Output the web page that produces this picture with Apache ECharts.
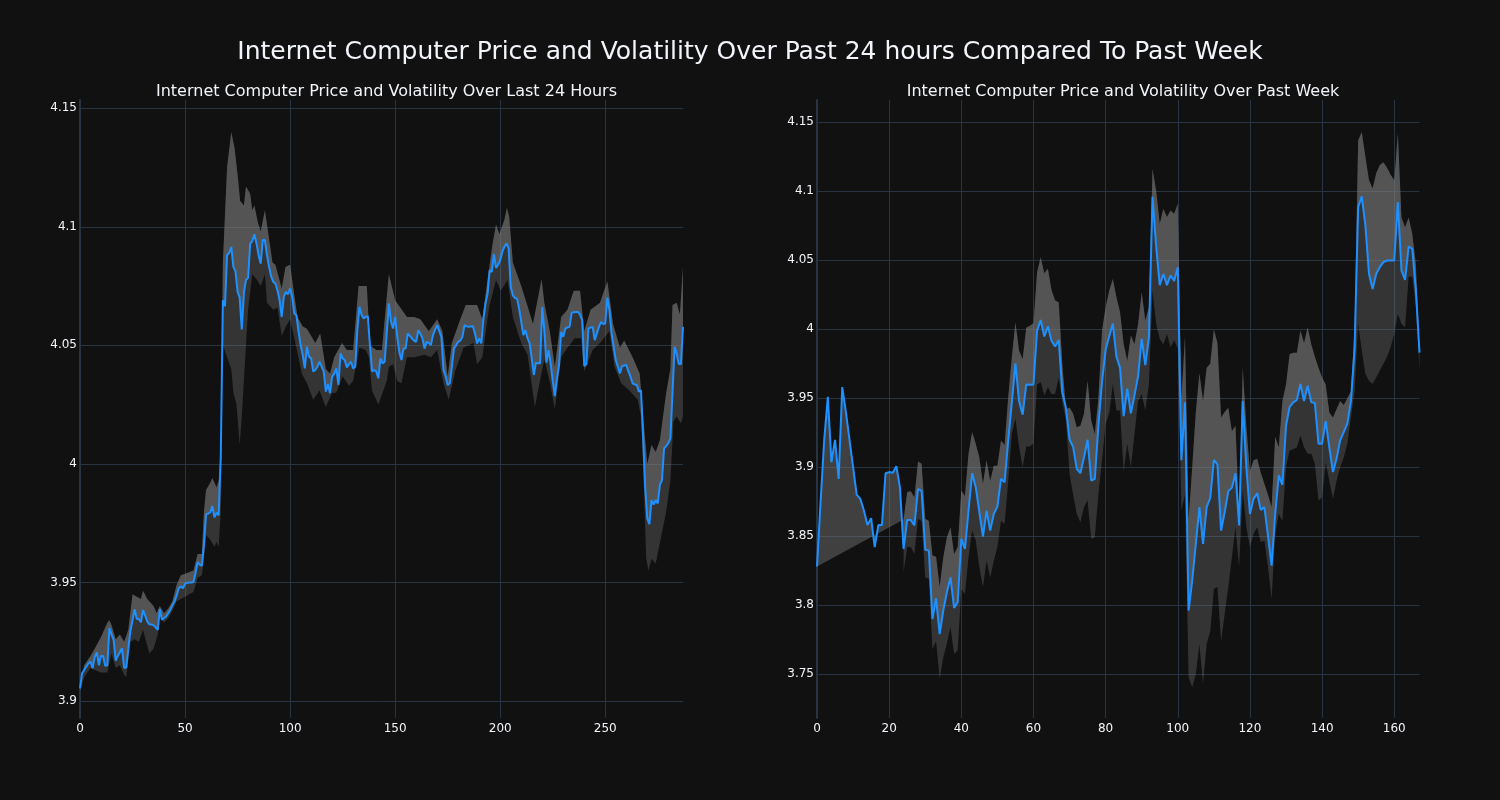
<!DOCTYPE html>
<html>
<head>
<meta charset="utf-8">
<script src="https://cdn.jsdelivr.net/npm/echarts@6/dist/echarts.min.js"></script>
<style>
html,body{margin:0;padding:0;background:#111111;}
#chart{width:1500px;height:800px;}
</style>
</head>
<body>
<div id="chart"></div>
<script>
const mainTitle = "Internet Computer Price and Volatility Over Past 24 hours Compared To Past Week";
const dayTitle = "Internet Computer Price and Volatility Over Last 24 Hours";
const weekTitle = "Internet Computer Price and Volatility Over Past Week";

// Last 24 hours (5-minute steps), x = index
const dayPrice = [
3.9053,3.9117,3.913,3.9145,3.9158,3.9166,3.9138,3.9185,3.9205,3.915,
3.919,3.919,3.9148,3.915,3.9307,3.928,3.9258,3.917,3.919,3.9205,
3.9222,3.914,3.914,3.922,3.9296,3.934,3.9387,3.9347,3.9345,3.9332,
3.9383,3.936,3.9335,3.9323,3.9322,3.932,3.931,3.93,3.9387,3.9342,
3.935,3.9356,3.937,3.9385,3.9403,3.942,3.9445,3.9475,3.9483,3.9475,
3.9494,3.9498,3.95,3.95,3.9502,3.954,3.9585,3.9575,3.957,3.966,
3.9788,3.979,3.9795,3.9822,3.9774,3.9794,3.9783,4.003,4.069,4.0665,
4.088,4.089,4.0915,4.0831,4.0812,4.0726,4.0701,4.0567,4.072,4.0777,
4.0784,4.0929,4.094,4.0969,4.093,4.088,4.0845,4.0944,4.0944,4.088,
4.083,4.079,4.0768,4.076,4.0732,4.069,4.062,4.0704,4.0726,4.0715,
4.074,4.0705,4.0634,4.0627,4.056,4.0501,4.046,4.0403,4.0494,4.0452,
4.0445,4.039,4.0396,4.041,4.0431,4.041,4.039,4.0305,4.0337,4.0298,
4.0368,4.038,4.0403,4.0333,4.0466,4.0445,4.0438,4.0407,4.042,4.0431,
4.0403,4.041,4.0564,4.0662,4.063,4.0613,4.062,4.0623,4.05,4.039,
4.0396,4.039,4.0361,4.0445,4.0424,4.0431,4.055,4.0677,4.06,4.0571,
4.062,4.0536,4.047,4.0438,4.0487,4.0487,4.055,4.054,4.0529,4.052,
4.0515,4.0564,4.055,4.0529,4.0487,4.0515,4.051,4.0501,4.0543,4.0565,
4.0585,4.056,4.0536,4.0396,4.037,4.0333,4.034,4.041,4.0487,4.05,
4.0515,4.052,4.0536,4.0585,4.058,4.0578,4.058,4.0581,4.055,4.0508,
4.0529,4.0508,4.061,4.0677,4.0719,4.0817,4.081,4.0885,4.0827,4.084,
4.086,4.0895,4.0916,4.093,4.0909,4.0747,4.0711,4.07,4.0697,4.0655,
4.06,4.0543,4.0564,4.053,4.0508,4.0445,4.0375,4.0427,4.0424,4.0424,
4.0662,4.0564,4.0427,4.048,4.0424,4.035,4.0286,4.036,4.0417,4.0557,
4.0536,4.0571,4.0575,4.0578,4.0637,4.064,4.0641,4.0641,4.063,4.0606,
4.0413,4.0421,4.0571,4.0575,4.0578,4.0522,4.055,4.0578,4.0599,4.059,
4.0592,4.0701,4.0648,4.055,4.0494,4.0438,4.041,4.0382,4.0413,4.0415,
4.0417,4.039,4.0368,4.034,4.0335,4.0333,4.0305,4.031,4.012,3.99,
3.977,3.9746,3.9847,3.9828,3.9847,3.9833,3.9911,3.9932,4.0066,4.0075,
4.0087,4.0108,4.03,4.0494,4.0466,4.0421,4.0421,4.0578
];
const dayUpper = [
[0,3.907],[2,3.915],[5,3.919],[7,3.922],[10,3.927],[13,3.933],[14,3.934],[15,3.932],[17,3.926],[19,3.928],
[21,3.925],[23,3.93],[25,3.945],[27,3.944],[29,3.943],[30,3.9465],[32,3.943],[35,3.94],[36.5,3.937],[38,3.94],
[40,3.937],[42,3.939],[44,3.942],[46,3.949],[48,3.953],[51,3.954],[54,3.955],[56,3.962],[58,3.962],[59,3.98],
[60,3.989],[62,3.992],[63,3.994],[65,3.99],[66,3.993],[67,4.005],[68,4.085],[70,4.125],[72,4.14],[73.6,4.133],
[75,4.122],[76.2,4.111],[78,4.109],[79,4.117],[81,4.114],[82,4.107],[83,4.109],[84.6,4.102],[86,4.098],[88,4.107],
[89,4.101],[91.6,4.085],[93,4.084],[96,4.074],[97.8,4.083],[100,4.084],[101.7,4.073],[103.5,4.062],[106,4.058],[108,4.057],
[112,4.051],[114.3,4.055],[117,4.04],[119,4.038],[121,4.045],[124.7,4.051],[127,4.048],[130,4.048],[132.6,4.075],[136.5,4.075],
[138,4.05],[141,4.048],[143.7,4.048],[147,4.08],[150,4.069],[155.6,4.062],[159,4.062],[162,4.061],[166,4.056],[170,4.061],
[172.5,4.056],[175,4.037],[177,4.051],[181,4.061],[183.6,4.067],[189,4.067],[191.5,4.061],[194,4.078],[196.4,4.093],[198,4.101],
[199.6,4.097],[202,4.103],[203.2,4.108],[204.3,4.104],[206,4.085],[210,4.075],[212.5,4.068],[215.6,4.059],[219.7,4.078],[221,4.068],
[223.6,4.056],[226,4.041],[229,4.062],[232,4.065],[235,4.073],[238,4.073],[240,4.056],[243,4.065],[247.5,4.068],[251,4.077],
[253.7,4.059],[257,4.049],[259,4.052],[263,4.045],[266.4,4.038],[268,4.02],[270,4.0],[272,4.008],[274,4.005],[276,4.01],
[279,4.03],[281,4.04],[282,4.067],[284,4.068],[285.5,4.063],[287,4.083]
];
const dayLower = [
[0,3.904],[2,3.91],[5,3.914],[7,3.913],[10,3.912],[13,3.912],[15,3.92],[17,3.914],[19,3.915],[21,3.911],
[22,3.91],[24,3.925],[26,3.926],[28,3.925],[30,3.93],[33,3.92],[35,3.922],[37,3.928],[38,3.936],[40,3.933],
[42,3.935],[44,3.938],[46,3.942],[48,3.943],[50,3.944],[52,3.945],[54,3.946],[56,3.952],[58,3.953],[59,3.96],
[60,3.97],[62,3.968],[64,3.965],[65,3.967],[66,3.965],[67,3.98],[68,4.05],[70,4.045],[72,4.04],[73,4.03],
[74.5,4.025],[76,4.008],[77,4.02],[78,4.035],[79,4.05],[80,4.065],[82,4.08],[84,4.078],[86,4.075],[88,4.08],
[89,4.068],[92,4.065],[94,4.066],[96,4.054],[98,4.058],[100,4.061],[103,4.049],[105.6,4.038],[108,4.034],[111,4.027],
[114,4.031],[117,4.024],[120,4.03],[122,4.03],[125,4.037],[128,4.033],[130,4.035],[133,4.049],[136,4.048],[137.5,4.045],
[139,4.031],[142,4.025],[144,4.03],[146,4.035],[147,4.041],[149,4.042],[151,4.035],[153,4.034],[155.6,4.045],[159,4.045],
[164,4.046],[167,4.045],[170,4.048],[173,4.034],[175.5,4.027],[178.5,4.039],[182.5,4.049],[187.3,4.051],[189,4.042],[191.5,4.045],
[194.7,4.066],[198,4.0775],[200.3,4.073],[203.5,4.0775],[206,4.062],[210,4.051],[213,4.046],[216.5,4.024],[218.7,4.034],[221,4.044],
[223.5,4.035],[226,4.023],[229,4.045],[232,4.049],[235.5,4.053],[238.5,4.053],[240,4.039],[244,4.048],[247.5,4.051],[252,4.056],
[254.4,4.041],[257.6,4.034],[261.5,4.031],[265.5,4.027],[267,4.02],[268,4.0],[269.5,3.96],[270.6,3.955],[272,3.96],[274,3.958],
[277,3.971],[279,3.98],[281,3.993],[282.5,4.018],[284,4.02],[286,4.017],[287,4.02]
];

// Past week (hourly), x = index
const weekPrice = [
3.828,3.875,3.92,3.951,3.9036,3.9198,3.8915,3.958,3.94,3.92,
3.90,3.88,3.877,3.8685,3.858,3.863,3.842,3.858,3.858,3.8956,
3.8964,3.896,3.9007,3.885,3.8407,3.8617,3.8617,3.8577,3.8843,3.8826,
3.84,3.8395,3.7899,3.8049,3.779,3.796,3.8093,3.82,3.7979,3.802,
3.848,3.8407,3.8685,3.8956,3.8855,3.8673,3.8497,3.8685,3.854,3.866,
3.8714,3.8915,3.8891,3.9194,3.947,3.9753,3.948,3.938,3.96,3.9598,
3.96,3.999,4.0067,3.9947,4.0021,3.9917,3.9874,3.9922,3.9542,3.943,
3.92,3.9145,3.8988,3.8956,3.907,3.9198,3.8903,3.8915,3.93,3.962,
3.985,3.995,4.004,3.98,3.972,3.937,3.957,3.939,3.952,3.966,
3.993,3.974,3.994,4.096,4.06,4.032,4.04,4.032,4.039,4.035,
4.045,3.905,3.947,3.796,3.8177,3.8443,3.871,3.8443,3.871,3.8777,
3.9053,3.902,3.854,3.8673,3.8826,3.885,3.8956,3.8577,3.948,3.90,
3.866,3.877,3.881,3.869,3.871,3.8504,3.8286,3.866,3.894,3.8872,
3.93,3.9436,3.947,3.9487,3.9603,3.948,3.959,3.947,3.9465,3.917,
3.917,3.9334,3.9145,3.8964,3.906,3.9194,3.9254,3.9315,3.948,3.985,
4.0885,4.0963,4.0752,4.0401,4.0292,4.0401,4.045,4.0486,4.0498,4.0498,
4.0498,4.0922,4.0426,4.0358,4.06,4.0583,4.028,3.983
];
const weekUpper = [
[24,3.862],[25,3.882],[26,3.8826],[27,3.878],[28,3.904],[29,3.9024],[30,3.8625],[31,3.861],[32,3.836],[33,3.835],
[34,3.813],[35,3.8347],[36,3.849],[37,3.8564],[38,3.837],[39,3.842],[40,3.883],[41,3.879],[42,3.9097],[43,3.9254],
[44,3.917],[45,3.907],[46,3.888],[47,3.905],[48,3.89],[49,3.901],[50,3.901],[51,3.9194],[52,3.916],[53,3.9506],
[54,3.9796],[55,4.005],[56,3.9845],[57,3.9784],[58,4.001],[59,4.0026],[60,4.0043],[61,4.0413],[62,4.0522],[63,4.0406],
[64,4.0438],[65,4.0285],[66,4.0208],[67,4.0196],[68,3.9748],[69,3.942],[70,3.9433],[71,3.9387],[72,3.929],[73,3.93],
[74,3.9387],[75,3.9627],[76,3.934],[77,3.924],[78,3.95],[79,3.999],[80,4.016],[81,4.028],[82,4.0365],[83,4.0232],
[84,4.0123],[85,3.9893],[86,3.9772],[87,3.9954],[88,3.9893],[89,4.0038],[90,4.0268],[91,4.0063],[92,4.016],[93,4.1164],
[94,4.1006],[95,4.0764],[96,4.0873],[97,4.0813],[98,4.0861],[99,4.0837],[100,4.091],[101,3.95],[102,3.995],[103,3.862],
[104,3.9],[105,3.94],[106,3.968],[107,3.948],[108,3.972],[109,3.975],[110,4.0],[111,3.99],[112,3.936],[113,3.94],
[114,3.943],[115,3.926],[116,3.93],[117,3.865],[118,3.9725],[119,3.93],[120,3.897],[121,3.905],[122,3.906],[123,3.896],
[124,3.888],[125,3.88],[126,3.871],[127,3.922],[128,3.9145],[129,3.948],[130,3.96],[131,3.982],[132,3.983],[133,3.983],
[134,3.999],[135,3.99],[136,4.0014],[137,3.989],[138,3.98],[139,3.972],[140,3.965],[141,3.96],[142,3.9397],[143,3.936],
[144,3.942],[145,3.948],[146,3.945],[147,3.95],[148,3.955],[149,4.0],[150,4.137],[151,4.143],[152,4.125],[153,4.108],
[154,4.102],[155,4.113],[156,4.119],[157,4.121],[158,4.117],[159,4.112],[160,4.108],[161,4.142],[162,4.081],[163,4.074],
[164,4.081],[165,4.069],[166,4.047],[167,3.984]
];
const weekLower = [
[24,3.8238],[25,3.842],[26,3.842],[27,3.837],[28,3.8625],[29,3.861],[30,3.82],[31,3.819],[32,3.768],[33,3.774],
[34,3.7463],[35,3.762],[36,3.772],[37,3.784],[38,3.7645],[39,3.767],[40,3.8117],[41,3.808],[42,3.8347],[43,3.854],
[44,3.8468],[45,3.8274],[46,3.813],[47,3.8322],[48,3.82],[49,3.832],[50,3.842],[51,3.861],[52,3.8589],[53,3.89],
[54,3.9242],[55,3.935],[56,3.915],[57,3.90],[58,3.915],[59,3.915],[60,3.917],[61,3.96],[62,3.9615],[63,3.952],
[64,3.958],[65,3.953],[66,3.953],[67,3.965],[68,3.947],[69,3.934],[70,3.895],[71,3.88],[72,3.866],[73,3.86],
[74,3.871],[75,3.876],[76,3.848],[77,3.849],[78,3.8806],[79,3.905],[80,3.9315],[81,3.939],[82,3.9603],[83,3.941],
[84,3.941],[85,3.8964],[86,3.917],[87,3.90],[88,3.924],[89,3.948],[90,3.953],[91,3.941],[92,3.96],[93,4.028],
[94,4.004],[95,3.993],[96,3.989],[97,3.9966],[98,3.987],[99,3.992],[100,3.986],[101,3.8686],[102,3.88],[103,3.7476],
[104,3.7403],[105,3.75],[106,3.7717],[107,3.7427],[108,3.7717],[109,3.781],[110,3.8117],[111,3.813],[112,3.774],[113,3.7935],
[114,3.813],[115,3.8347],[116,3.8564],[117,3.8274],[118,3.883],[119,3.8564],[120,3.842],[121,3.8516],[122,3.8564],[123,3.8456],
[124,3.8468],[125,3.8274],[126,3.8044],[127,3.8516],[128,3.866],[129,3.861],[130,3.9],[131,3.912],[132,3.913],[133,3.9145],
[134,3.923],[135,3.9145],[136,3.9097],[137,3.9097],[138,3.9024],[139,3.8758],[140,3.878],[141,3.9036],[142,3.89],[143,3.877],
[144,3.89],[145,3.9],[146,3.907],[147,3.917],[148,3.936],[149,3.955],[150,4.004],[151,3.9845],[152,3.9676],[153,3.9627],
[154,3.9603],[155,3.965],[156,3.97],[157,3.975],[158,3.98],[159,3.987],[160,3.9966],[161,4.011],[162,4.004],[163,4.0014],
[164,4.038],[165,4.038],[166,4.016],[167,3.97]
];

const dayRange = {xMin: 0, xMax: 287, xStep: 50, yMin: 3.8928, yMax: 4.1535, yStep: 0.05};
const weekRange = {xMin: 0, xMax: 167, xStep: 20, yMin: 3.7181, yMax: 4.1662, yStep: 0.05};

const TEXT = '#f2f5fa';
const GRID = '#283442';
const FONT = '"DejaVu Sans", Verdana, sans-serif';
const BAND_FULL = 'rgba(128,128,128,0.32)';
const BAND_TOP = 'rgba(128,128,128,0.43)';

const toPairs = arr => arr.map((v, i) => [i, v]);

function polygonSeries(edgeA, edgeB, color, idx, z) {
  return {
    type: 'custom', coordinateSystem: 'cartesian2d',
    xAxisIndex: idx, yAxisIndex: idx, z: z, silent: true,
    data: [edgeA[0]],
    renderItem: function (params, api) {
      const pts = edgeA.map(p => api.coord(p))
        .concat(edgeB.slice().reverse().map(p => api.coord(p)));
      return { type: 'polygon', shape: { points: pts }, style: { fill: color } };
    }
  };
}

function xAxisCfg(idx, r) {
  return {
    type: 'value', gridIndex: idx, min: r.xMin, max: r.xMax, interval: r.xStep,
    axisLine: { show: false }, axisTick: { show: false },
    axisLabel: { color: TEXT, fontSize: 12, fontFamily: FONT, margin: 5, showMaxLabel: false },
    splitLine: { show: true, showMinLine: false, showMaxLine: false, lineStyle: { color: GRID, width: 1 } }
  };
}
function yAxisCfg(idx, r) {
  return {
    type: 'value', gridIndex: idx, min: r.yMin, max: r.yMax,
    minInterval: r.yStep, maxInterval: r.yStep, splitNumber: 5, scale: true,
    axisLine: { show: true, onZero: false, lineStyle: { color: GRID, width: 2 } },
    axisTick: { show: false },
    axisLabel: { color: TEXT, fontSize: 12, fontFamily: FONT, margin: 3, showMinLabel: false, showMaxLabel: false },
    splitLine: { show: true, showMinLine: false, showMaxLine: false, lineStyle: { color: GRID, width: 1 } }
  };
}

const dayP = toPairs(dayPrice);
const weekP = toPairs(weekPrice);

const chart = echarts.init(document.getElementById('chart'), null, { renderer: 'canvas' });
chart.setOption({
  backgroundColor: '#111111',
  animation: false,
  title: [
    { text: mainTitle, left: 'center', top: 35, textStyle: { color: TEXT, fontSize: 25, fontWeight: 'normal', fontFamily: FONT } },
    { text: dayTitle, left: 381.5, textAlign: 'center', top: 79, textStyle: { color: TEXT, fontSize: 16, fontWeight: 'normal', fontFamily: FONT } },
    { text: weekTitle, left: 1118, textAlign: 'center', top: 79, textStyle: { color: TEXT, fontSize: 16, fontWeight: 'normal', fontFamily: FONT } }
  ],
  grid: [
    { left: 80, top: 100, width: 603, height: 618 },
    { left: 817, top: 100, width: 602.5, height: 618 }
  ],
  xAxis: [xAxisCfg(0, dayRange), xAxisCfg(1, weekRange)],
  yAxis: [yAxisCfg(0, dayRange), yAxisCfg(1, weekRange)],
  series: [
    polygonSeries(dayLower, dayUpper, BAND_FULL, 0, 1),
    polygonSeries(dayUpper, dayP, BAND_TOP, 0, 2),
    { type: 'line', xAxisIndex: 0, yAxisIndex: 0, data: dayP, showSymbol: false, z: 5,
      lineStyle: { color: '#1e90ff', width: 2 }, itemStyle: { color: '#1e90ff' } },
    polygonSeries(weekLower, weekUpper, BAND_FULL, 1, 1),
    polygonSeries(weekUpper, weekP, BAND_TOP, 1, 2),
    { type: 'line', xAxisIndex: 1, yAxisIndex: 1, data: weekP, showSymbol: false, z: 5,
      lineStyle: { color: '#1e90ff', width: 2 }, itemStyle: { color: '#1e90ff' } }
  ]
});
</script>
</body>
</html>
